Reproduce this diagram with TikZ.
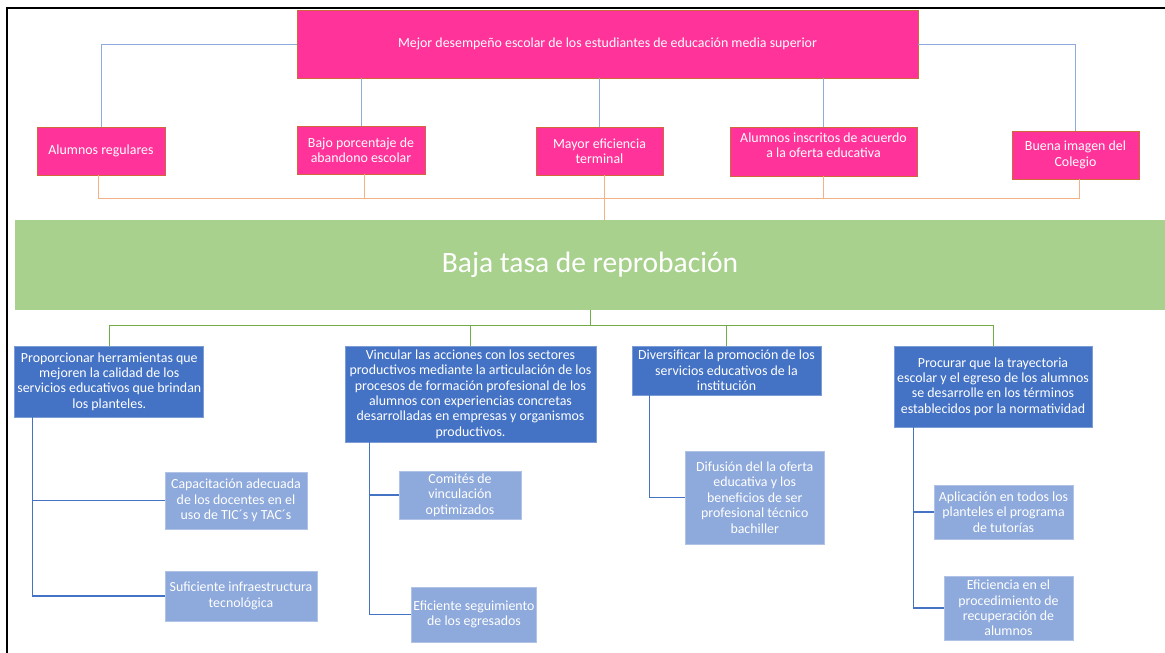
\documentclass[tikz,border=0pt]{standalone}
\usepackage{fontspec}
\setmainfont{Carlito}
\definecolor{pinkfill}{HTML}{FF3399}
\definecolor{pinkedge}{HTML}{D0683A}
\definecolor{lblue}{HTML}{8FAADC}
\definecolor{orangeln}{HTML}{F4B183}
\definecolor{greenfill}{HTML}{A9D18E}
\definecolor{greenln}{HTML}{70AD47}
\definecolor{dblue}{HTML}{4472C4}
\definecolor{subfill}{HTML}{8EA9DB}
\tikzset{
  box/.style={inner xsep=1pt, inner ysep=1pt, align=center, text=white,
    font=\fontsize{13.9}{15.4}\selectfont},
  pinkbox/.style={box, fill=pinkfill, draw=pinkedge, line width=0.9pt},
  bluebox/.style={box, fill=dblue, draw=dblue!70!white, line width=0.8pt},
  subbox/.style={box, fill=subfill, draw=subfill!70!white, line width=0.8pt},
  topln/.style={draw=lblue, line width=1pt},
  orln/.style={draw=orangeln, line width=1pt},
  grln/.style={draw=greenln, line width=1pt},
  subln/.style={draw=dblue, line width=1.5pt},
}
\begin{document}
\begin{tikzpicture}[x=1pt,y=-1pt]
\useasboundingbox (0,0) rectangle (1165,653);
\fill[white] (0,0) rectangle (1165,653);
\draw[black, line width=2pt] (7,654) -- (7,8) -- (1166,8);

% top box
\node[pinkbox, minimum width=621pt, minimum height=68pt] (top) at (607.5,44)
  {Mejor desempeño escolar de los estudiantes de educación media superior};

% pink row
\node[pinkbox, minimum width=128pt, minimum height=48pt] (pA) at (101,151) {Alumnos regulares};
\node[pinkbox, minimum width=128pt, minimum height=48pt] (pB) at (361,150) {Bajo porcentaje de\\abandono escolar};
\node[pinkbox, minimum width=127pt, minimum height=48pt] (pC) at (599.5,151) {Mayor eficiencia\\terminal};
\node[pinkbox, minimum width=187pt, minimum height=49pt] (pD) at (823.5,151.5) {Alumnos inscritos de acuerdo\\a la oferta educativa\\[-2.5pt]};
\node[pinkbox, minimum width=127pt, minimum height=48pt] (pE) at (1075.5,155) {Buena imagen del\\Colegio};

% green box
\node[fill=greenfill, minimum width=1150pt, minimum height=90pt, inner sep=0pt,
  text=white, font=\fontsize{29.5}{33}\selectfont] (green) at (590,265) {Baja tasa de reprobación};

% connectors top
\draw[topln] (top.west) -| (pA.north);
\draw[topln] (top.east) -| (pE.north);
\draw[topln] (top.south -| pB.north) -- (pB.north);
\draw[topln] (top.south -| pC.north) -- (pC.north);
\draw[topln] (top.south -| pD.north) -- (pD.north);

% orange bus
\coordinate (obus) at (604,198);
\draw[orln] ([xshift=-2.5pt]pA.south) |- (obus);
\draw[orln] ([xshift=3.5pt]pB.south) |- (obus);
\draw[orln] ([xshift=4.5pt]pC.south) -- (obus);
\draw[orln] (pD.south) |- (obus);
\draw[orln] ([xshift=3.5pt]pE.south) |- (obus);
\draw[orln] (obus) -- (green.north -| obus);

% blue boxes
\node[bluebox, minimum width=189pt, minimum height=71pt] (b1) at (109.3,381.5)
  {Proporcionar herramientas que\\mejoren la calidad de los\\servicios educativos que brindan\\los planteles.};
\node[bluebox, minimum width=251pt, minimum height=96pt] (b2) at (470.5,394)
  {Vincular las acciones con los sectores\\productivos mediante la articulación de los\\procesos de formación profesional de los\\alumnos con experiencias concretas\\desarrolladas en empresas y organismos\\productivos.};
\node[bluebox, minimum width=189pt, minimum height=49pt] (b3) at (726.5,370.5)
  {Diversificar la promoción de los\\servicios educativos de la\\institución};
\node[bluebox, minimum width=198pt, minimum height=81pt] (b4) at (993,386.5)
  {Procurar que la trayectoria\\escolar y el egreso de los alumnos\\se desarrolle en los términos\\establecidos por la normatividad};

% green connectors
\coordinate (gbus) at (590.5,325);
\draw[grln] (green.south -| gbus) -- (gbus);
\draw[grln] (b1.north) |- (gbus);
\draw[grln] (b2.north) |- (gbus);
\draw[grln] (b3.north) |- (gbus);
\draw[grln] (b4.north) |- (gbus);

% sub boxes
\node[subbox, minimum width=142pt, minimum height=57pt] (s1) at (236,500.5)
  {Capacitación adecuada\\de los docentes en el\\uso de TIC´s y TAC´s};
\node[subbox, minimum width=152pt, minimum height=50pt] (s2) at (241,596)
  {Suficiente infraestructura\\tecnológica};
\node[subbox, minimum width=122pt, minimum height=48pt] (s3) at (460,495)
  {Comités de\\vinculación\\optimizados};
\node[subbox, minimum width=125pt, minimum height=55pt] (s4) at (474,614.5)
  {Eficiente seguimiento\\de los egresados};
\node[subbox, minimum width=139.5pt, minimum height=93pt] (s5) at (754.75,497.5)
  {Difusión del la oferta\\educativa y los\\beneficios de ser\\profesional técnico\\bachiller};
\node[subbox, minimum width=139pt, minimum height=54pt] (s6) at (1003.5,512)
  {Aplicación en todos los\\planteles el programa\\de tutorías};
\node[subbox, minimum width=129pt, minimum height=64pt] (s7) at (1008.5,608)
  {Eficiencia en el\\procedimiento de\\recuperación de\\alumnos};

% sub connectors
\draw[subln] (s1.west) -| ([xshift=18pt]b1.south west);
\draw[subln] (s2.west) -| ([xshift=18pt]b1.south west);
\draw[subln] (s3.west) -| ([xshift=25pt]b2.south west);
\draw[subln] (s4.west) -| ([xshift=25pt]b2.south west);
\draw[subln] (s5.west) -| ([xshift=18pt]b3.south west);
\draw[subln] (s6.west) -| ([xshift=20pt]b4.south west);
\draw[subln] (s7.west) -| ([xshift=20pt]b4.south west);
\end{tikzpicture}
\end{document}
